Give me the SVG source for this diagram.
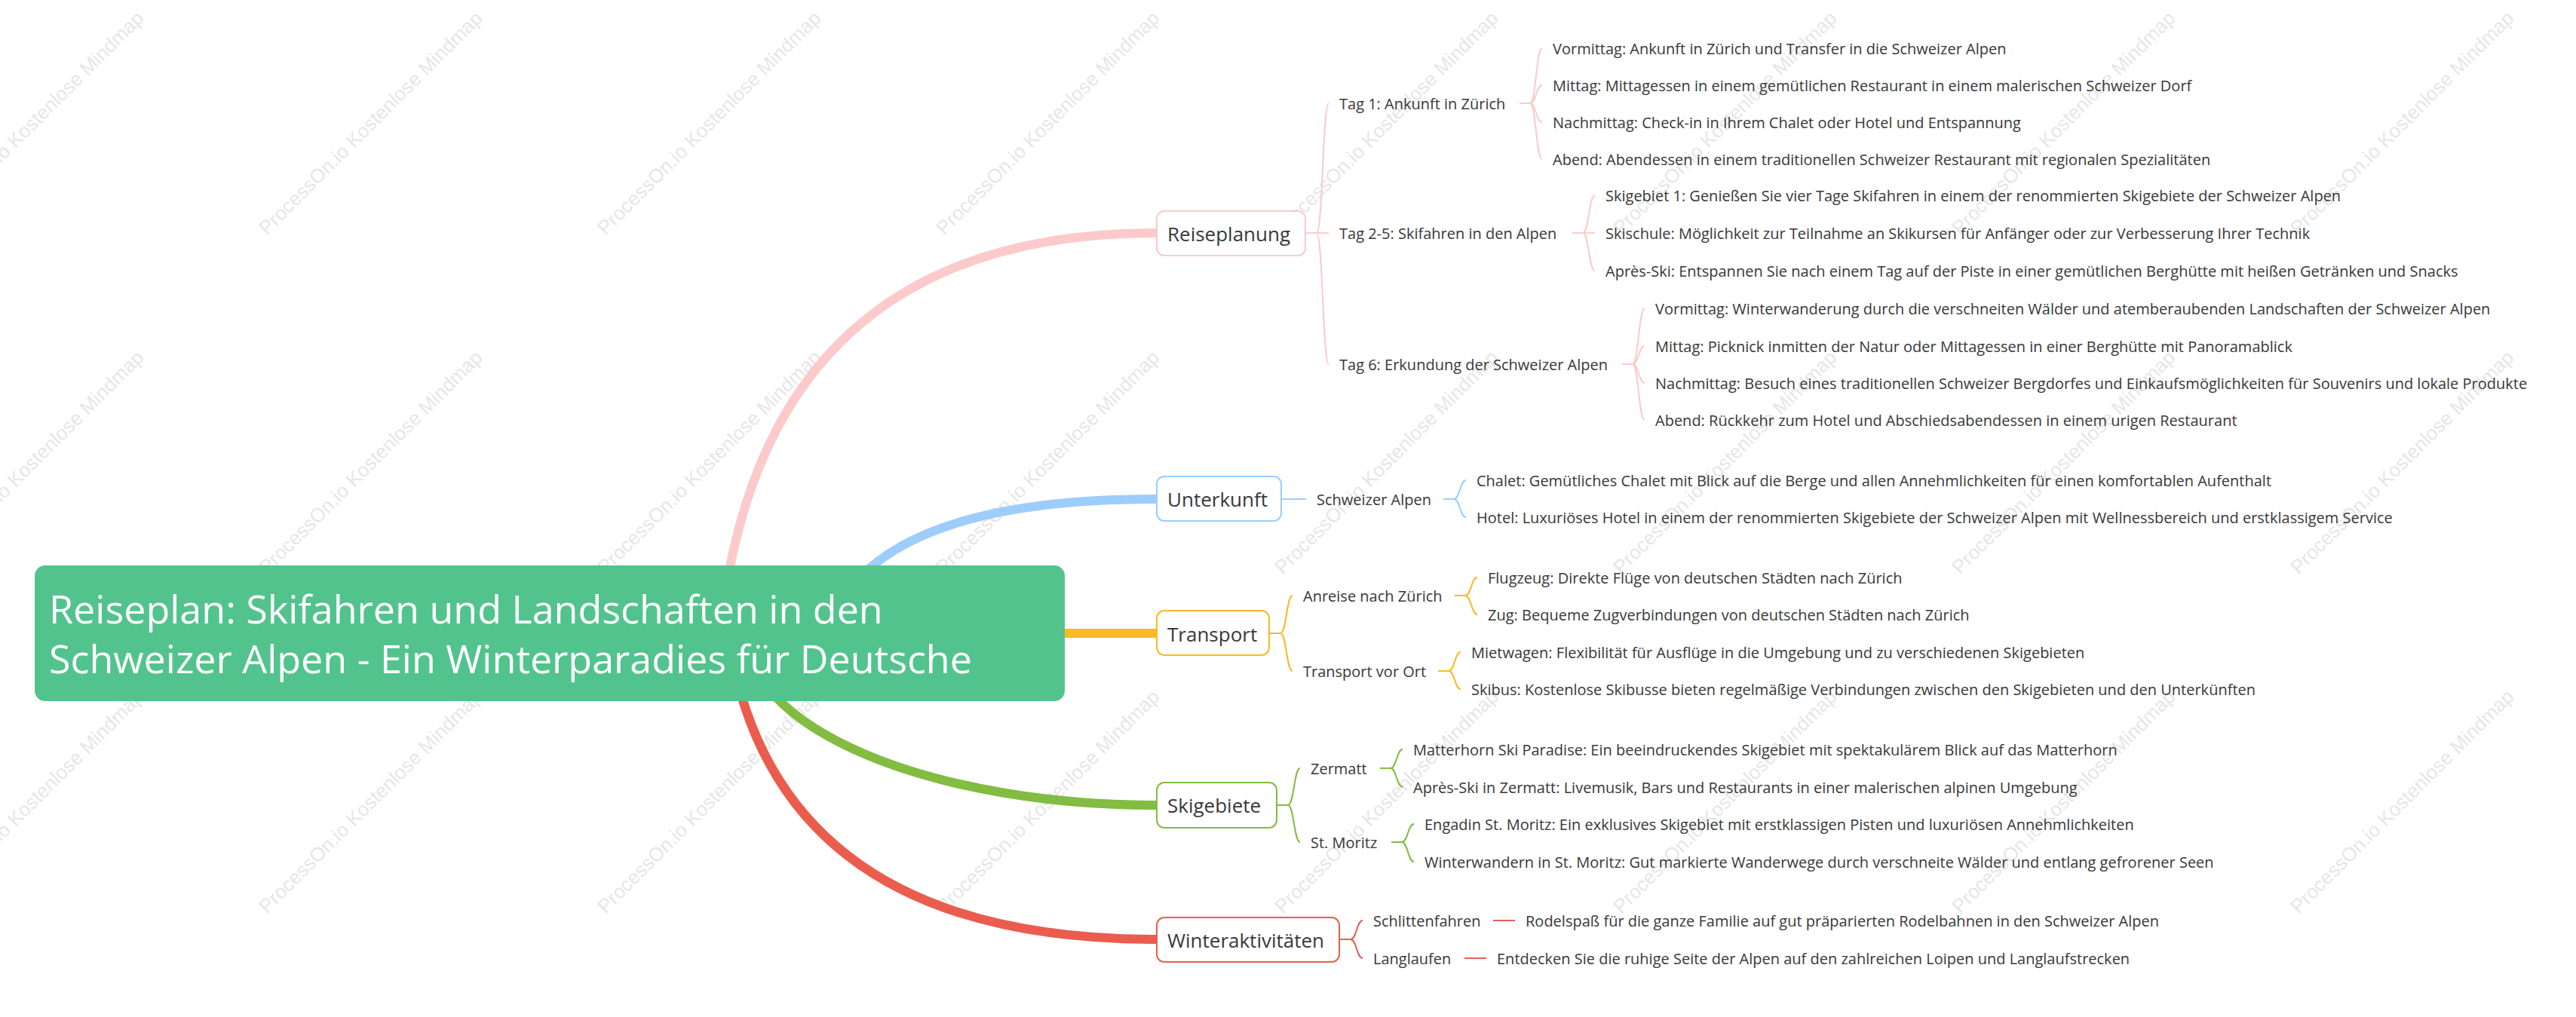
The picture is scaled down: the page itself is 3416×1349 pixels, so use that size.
<svg xmlns="http://www.w3.org/2000/svg" width="3416" height="1349" viewBox="0 0 3416 1349">
<style>
.wm{font-family:'Liberation Sans',Arial,sans-serif;font-size:26px;fill:#e6e6e6}
.t{font-family:'Open Sans','Noto Sans',sans-serif;font-size:20px;fill:#383838}
.tp{font-family:'Open Sans','Noto Sans',sans-serif;font-size:26px;fill:#383838}
.tr{font-family:'Open Sans','Noto Sans',sans-serif;font-size:52px;fill:#ffffff}
.thick{fill:none;stroke-width:12}
.thin{fill:none;stroke-width:2}
.pk{stroke:#fccaca}.bl{stroke:#9dcdfb}.ye{stroke:#fab927}.gr{stroke:#82bc41}.rd{stroke:#ea5d4e}
.box{fill:#ffffff;stroke-width:2}
</style>
<rect x="0" y="0" width="3416" height="1349" fill="#ffffff"/>
<g id="watermarks">
<text class="wm" transform="translate(-95,313) rotate(-45)">ProcessOn.io Kostenlose Mindmap</text>
<text class="wm" transform="translate(354,313) rotate(-45)">ProcessOn.io Kostenlose Mindmap</text>
<text class="wm" transform="translate(803,313) rotate(-45)">ProcessOn.io Kostenlose Mindmap</text>
<text class="wm" transform="translate(1252,313) rotate(-45)">ProcessOn.io Kostenlose Mindmap</text>
<text class="wm" transform="translate(1701,313) rotate(-45)">ProcessOn.io Kostenlose Mindmap</text>
<text class="wm" transform="translate(2150,313) rotate(-45)">ProcessOn.io Kostenlose Mindmap</text>
<text class="wm" transform="translate(2599,313) rotate(-45)">ProcessOn.io Kostenlose Mindmap</text>
<text class="wm" transform="translate(3048,313) rotate(-45)">ProcessOn.io Kostenlose Mindmap</text>
<text class="wm" transform="translate(-95,763) rotate(-45)">ProcessOn.io Kostenlose Mindmap</text>
<text class="wm" transform="translate(354,763) rotate(-45)">ProcessOn.io Kostenlose Mindmap</text>
<text class="wm" transform="translate(803,763) rotate(-45)">ProcessOn.io Kostenlose Mindmap</text>
<text class="wm" transform="translate(1252,763) rotate(-45)">ProcessOn.io Kostenlose Mindmap</text>
<text class="wm" transform="translate(1701,763) rotate(-45)">ProcessOn.io Kostenlose Mindmap</text>
<text class="wm" transform="translate(2150,763) rotate(-45)">ProcessOn.io Kostenlose Mindmap</text>
<text class="wm" transform="translate(2599,763) rotate(-45)">ProcessOn.io Kostenlose Mindmap</text>
<text class="wm" transform="translate(3048,763) rotate(-45)">ProcessOn.io Kostenlose Mindmap</text>
<text class="wm" transform="translate(-95,1213) rotate(-45)">ProcessOn.io Kostenlose Mindmap</text>
<text class="wm" transform="translate(354,1213) rotate(-45)">ProcessOn.io Kostenlose Mindmap</text>
<text class="wm" transform="translate(803,1213) rotate(-45)">ProcessOn.io Kostenlose Mindmap</text>
<text class="wm" transform="translate(1252,1213) rotate(-45)">ProcessOn.io Kostenlose Mindmap</text>
<text class="wm" transform="translate(1701,1213) rotate(-45)">ProcessOn.io Kostenlose Mindmap</text>
<text class="wm" transform="translate(2150,1213) rotate(-45)">ProcessOn.io Kostenlose Mindmap</text>
<text class="wm" transform="translate(2599,1213) rotate(-45)">ProcessOn.io Kostenlose Mindmap</text>
<text class="wm" transform="translate(3048,1213) rotate(-45)">ProcessOn.io Kostenlose Mindmap</text>
</g>
<g id="connectors">
<path class="thick pk" d="M955 840 Q1010 309 1533 309"/>
<path class="thick bl" d="M1096 840 Q1151 662 1533 662"/>
<path class="thick ye" d="M1300 840 H1533"/>
<path class="thick gr" d="M990 840 A543 228 0 0 0 1533 1068"/>
<path class="thick rd" d="M965 840 Q1025 1246 1533 1246"/>
<!-- Reiseplanung -->
<path class="thin pk" d="M1732 309 H1746 M1746 309 C1754 309 1754 137 1762 137 M1746 309 H1762 M1746 309 C1754 309 1754 483 1762 483"/>
<path class="thin pk" d="M2015 137 H2029 M2029 137 C2037 137 2037 64 2045 64 M2029 137 C2037 137 2037 113 2045 113 M2029 137 C2037 137 2037 162 2045 162 M2029 137 C2037 137 2037 211 2045 211"/>
<path class="thin pk" d="M2085 309 H2099 M2099 309 C2107 309 2107 259 2115 259 M2099 309 H2115 M2099 309 C2107 309 2107 359 2115 359"/>
<path class="thin pk" d="M2151 483 H2165 M2165 483 C2173 483 2173 409 2181 409 M2165 483 C2173 483 2173 459 2181 459 M2165 483 C2173 483 2173 508 2181 508 M2165 483 C2173 483 2173 557 2181 557"/>
<!-- Unterkunft -->
<path class="thin bl" d="M1700 662 H1732"/>
<path class="thin bl" d="M1914 662 H1928 M1928 662 C1936 662 1936 637 1944 637 M1928 662 C1936 662 1936 686 1944 686"/>
<!-- Transport -->
<path class="thin ye" d="M1684 840 H1698 M1698 840 C1706 840 1706 790 1714 790 M1698 840 C1706 840 1706 890 1714 890"/>
<path class="thin ye" d="M1929 790 H1943 M1943 790 C1951 790 1951 766 1959 766 M1943 790 C1951 790 1951 815 1959 815"/>
<path class="thin ye" d="M1907 890 H1921 M1921 890 C1929 890 1929 865 1937 865 M1921 890 C1929 890 1929 914 1937 914"/>
<!-- Skigebiete -->
<path class="thin gr" d="M1694 1068 H1708 M1708 1068 C1716 1068 1716 1019 1724 1019 M1708 1068 C1716 1068 1716 1117 1724 1117"/>
<path class="thin gr" d="M1830 1019 H1844 M1844 1019 C1852 1019 1852 994 1860 994 M1844 1019 C1852 1019 1852 1044 1860 1044"/>
<path class="thin gr" d="M1845 1117 H1859 M1859 1117 C1867 1117 1867 1093 1875 1093 M1859 1117 C1867 1117 1867 1143 1875 1143"/>
<!-- Winteraktivitäten -->
<path class="thin rd" d="M1777 1246 H1791 M1791 1246 C1799 1246 1799 1221 1807 1221 M1791 1246 C1799 1246 1799 1271 1807 1271"/>
<path class="thin rd" d="M1980 1221 H2009 M1942 1271 H1971"/>
</g>
<g id="root">
<rect x="46" y="750" width="1366" height="180" rx="14" fill="#52c38d"/>
<text class="tr" x="65" y="827">Reiseplan: Skifahren und Landschaften in den</text>
<text class="tr" x="65" y="893">Schweizer Alpen - Ein Winterparadies für Deutsche</text>
</g>
<g id="reiseplanung">
<rect class="box pk" x="1534" y="280" width="197" height="59" rx="10"/>
<text class="tp" x="1548" y="320">Reiseplanung</text>
</g>
<g id="tag1">
<text class="t" x="1776" y="145">Tag 1: Ankunft in Zürich</text>
<text class="t" x="2059" y="72">Vormittag: Ankunft in Zürich und Transfer in die Schweizer Alpen</text>
<text class="t" x="2059" y="121">Mittag: Mittagessen in einem gemütlichen Restaurant in einem malerischen Schweizer Dorf</text>
<text class="t" x="2059" y="170">Nachmittag: Check-in in Ihrem Chalet oder Hotel und Entspannung</text>
<text class="t" x="2059" y="219">Abend: Abendessen in einem traditionellen Schweizer Restaurant mit regionalen Spezialitäten</text>
</g>
<g id="tag25">
<text class="t" x="1776" y="317">Tag 2-5: Skifahren in den Alpen</text>
<text class="t" x="2129" y="267">Skigebiet 1: Genießen Sie vier Tage Skifahren in einem der renommierten Skigebiete der Schweizer Alpen</text>
<text class="t" x="2129" y="317">Skischule: Möglichkeit zur Teilnahme an Skikursen für Anfänger oder zur Verbesserung Ihrer Technik</text>
<text class="t" x="2129" y="367">Après-Ski: Entspannen Sie nach einem Tag auf der Piste in einer gemütlichen Berghütte mit heißen Getränken und Snacks</text>
</g>
<g id="tag6">
<text class="t" x="1776" y="491">Tag 6: Erkundung der Schweizer Alpen</text>
<text class="t" x="2195" y="417">Vormittag: Winterwanderung durch die verschneiten Wälder und atemberaubenden Landschaften der Schweizer Alpen</text>
<text class="t" x="2195" y="467">Mittag: Picknick inmitten der Natur oder Mittagessen in einer Berghütte mit Panoramablick</text>
<text class="t" x="2195" y="516">Nachmittag: Besuch eines traditionellen Schweizer Bergdorfes und Einkaufsmöglichkeiten für Souvenirs und lokale Produkte</text>
<text class="t" x="2195" y="565">Abend: Rückkehr zum Hotel und Abschiedsabendessen in einem urigen Restaurant</text>
</g>
<g id="unterkunft">
<rect class="box bl" x="1534" y="632" width="165" height="59" rx="10"/>
<text class="tp" x="1548" y="672">Unterkunft</text>
<text class="t" x="1746" y="670">Schweizer Alpen</text>
<text class="t" x="1958" y="645">Chalet: Gemütliches Chalet mit Blick auf die Berge und allen Annehmlichkeiten für einen komfortablen Aufenthalt</text>
<text class="t" x="1958" y="694">Hotel: Luxuriöses Hotel in einem der renommierten Skigebiete der Schweizer Alpen mit Wellnessbereich und erstklassigem Service</text>
</g>
<g id="transport">
<rect class="box ye" x="1534" y="810" width="149" height="59" rx="10"/>
<text class="tp" x="1548" y="851">Transport</text>
<text class="t" x="1728" y="798">Anreise nach Zürich</text>
<text class="t" x="1973" y="774">Flugzeug: Direkte Flüge von deutschen Städten nach Zürich</text>
<text class="t" x="1973" y="823">Zug: Bequeme Zugverbindungen von deutschen Städten nach Zürich</text>
<text class="t" x="1728" y="898">Transport vor Ort</text>
<text class="t" x="1951" y="873">Mietwagen: Flexibilität für Ausflüge in die Umgebung und zu verschiedenen Skigebieten</text>
<text class="t" x="1951" y="922">Skibus: Kostenlose Skibusse bieten regelmäßige Verbindungen zwischen den Skigebieten und den Unterkünften</text>
</g>
<g id="skigebiete">
<rect class="box gr" x="1534" y="1038" width="159" height="60" rx="10"/>
<text class="tp" x="1548" y="1078">Skigebiete</text>
<text class="t" x="1738" y="1027">Zermatt</text>
<text class="t" x="1874" y="1002">Matterhorn Ski Paradise: Ein beeindruckendes Skigebiet mit spektakulärem Blick auf das Matterhorn</text>
<text class="t" x="1874" y="1052">Après-Ski in Zermatt: Livemusik, Bars und Restaurants in einer malerischen alpinen Umgebung</text>
<text class="t" x="1738" y="1125">St. Moritz</text>
<text class="t" x="1889" y="1101">Engadin St. Moritz: Ein exklusives Skigebiet mit erstklassigen Pisten und luxuriösen Annehmlichkeiten</text>
<text class="t" x="1889" y="1151">Winterwandern in St. Moritz: Gut markierte Wanderwege durch verschneite Wälder und entlang gefrorener Seen</text>
</g>
<g id="winteraktivitaeten">
<rect class="box rd" x="1534" y="1217" width="242" height="59" rx="10"/>
<text class="tp" x="1548" y="1257">Winteraktivitäten</text>
<text class="t" x="1821" y="1229">Schlittenfahren</text>
<text class="t" x="2023" y="1229">Rodelspaß für die ganze Familie auf gut präparierten Rodelbahnen in den Schweizer Alpen</text>
<text class="t" x="1821" y="1279">Langlaufen</text>
<text class="t" x="1985" y="1279">Entdecken Sie die ruhige Seite der Alpen auf den zahlreichen Loipen und Langlaufstrecken</text>
</g>
</svg>
